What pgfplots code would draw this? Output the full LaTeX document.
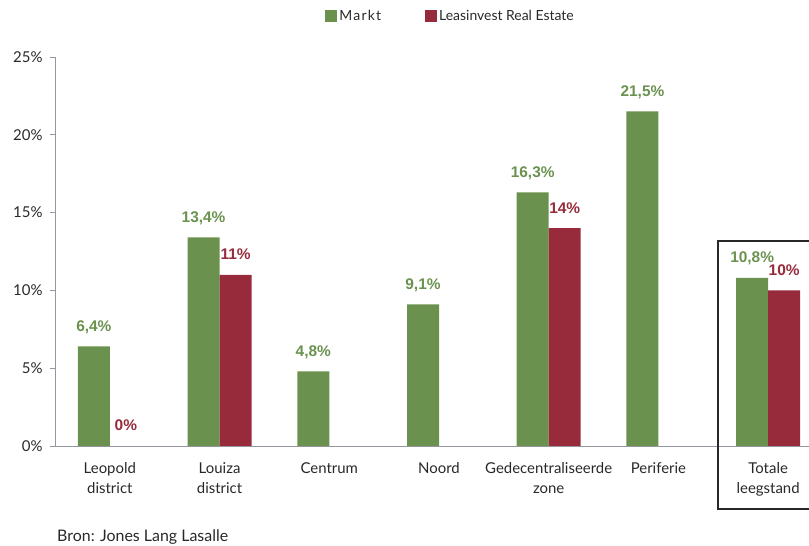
\documentclass[border=0pt]{standalone}
\usepackage{pgfplots}
\pgfplotsset{compat=1.18}
\usepackage{fontspec}
\setmainfont{Lato}
\newfontfamily\labfont{Liberation Sans}
\definecolor{gr}{RGB}{106,146,78}
\definecolor{rd}{RGB}{151,43,60}
\definecolor{ax}{RGB}{150,150,160}
\definecolor{tx}{RGB}{40,40,40}
\begin{document}
\begin{tikzpicture}[x=1bp,y=1bp]
\useasboundingbox (0,0) rectangle (809,546);
\clip (0,0) rectangle (809,546);
\begin{axis}[
  at={(55bp,100bp)}, anchor=south west,
  scale only axis, width=768bp, height=389bp,
  xmin=-0.5, xmax=6.5, ymin=0, ymax=25,
  ybar=0pt, bar width=32bp,
  axis x line*=bottom, axis y line*=left,
  axis line style={ax, line width=0.8bp, -},
  tick align=outside,
  major tick length=5bp,
  tick style={ax, line width=0.8bp},
  xtick={0,...,6},
  xticklabels={{Leopold\\district},{Louiza\\district},Centrum,Noord,{Gedecentraliseerde\\zone},Periferie,{Totale\\leegstand}},
  major x tick style={draw=none},
  extra x ticks={-0.5,0.5,1.5,2.5,3.5,4.5,5.5,6.5},
  extra x tick labels={},
  extra x tick style={major tick length=6bp, tick style={ax, line width=0.8bp}},
  xticklabel style={align=center, text=tx, font=\fontsize{15}{20}\selectfont, yshift=-8bp},
  ytick={0,5,10,15,20,25},
  yticklabels={0\%,5\%,10\%,15\%,20\%,25\%},
  yticklabel style={text=tx, font=\fontsize{15}{16}\selectfont, xshift=-4bp},
  point meta=explicit symbolic,
  nodes near coords,
  every node near coord/.append style={font=\labfont\bfseries\fontsize{15.5}{15.5}\selectfont, anchor=base, inner sep=0pt, yshift=15bp},
  legend columns=2,
  legend style={at={(0.515,1.105)}, anchor=center, draw=none, fill=none,
    font=\fontsize{14}{16}\selectfont, text=tx,
    /tikz/every even column/.append style={column sep=42bp}},
  legend image code/.code={\fill[#1] (0bp,-6bp) rectangle (12bp,6bp);},
]
\addplot[fill=gr, draw=none, bar shift=-16bp, every node near coord/.append style={text=gr}] coordinates {
  (0,6.4) [6,4\%]
  (1,13.4) [13,4\%]
  (2,4.8) [4,8\%]
  (3,9.1) [9,1\%]
  (4,16.3) [16,3\%]
  (5,21.5) [21,5\%]
  (6,10.8) [10,8\%]
};
\addlegendentry{M\kern1.2bp a\kern1.2bp r\kern1.2bp k\kern1.2bp t}
\addplot[fill=rd, draw=none, bar shift=16bp, every node near coord/.append style={text=rd}] coordinates {
  (1,11) [11\%]
  (4,14) [14\%]
  (6,10) [10\%]
};
\addlegendentry{Leasinvest Real Estate}
\addplot[fill=none, draw=none, bar shift=16bp, forget plot, every node near coord/.append style={text=rd}] coordinates {
  (0,0) [0\%]
};
\end{axis}
\draw[line width=1.5bp, tx] (718,305) rectangle (830,37);
\node[anchor=west, inner sep=0pt, text=tx, font=\fontsize{16}{18}\selectfont] at (57,9) {Bron: Jones Lang Lasalle};
\end{tikzpicture}
\end{document}
